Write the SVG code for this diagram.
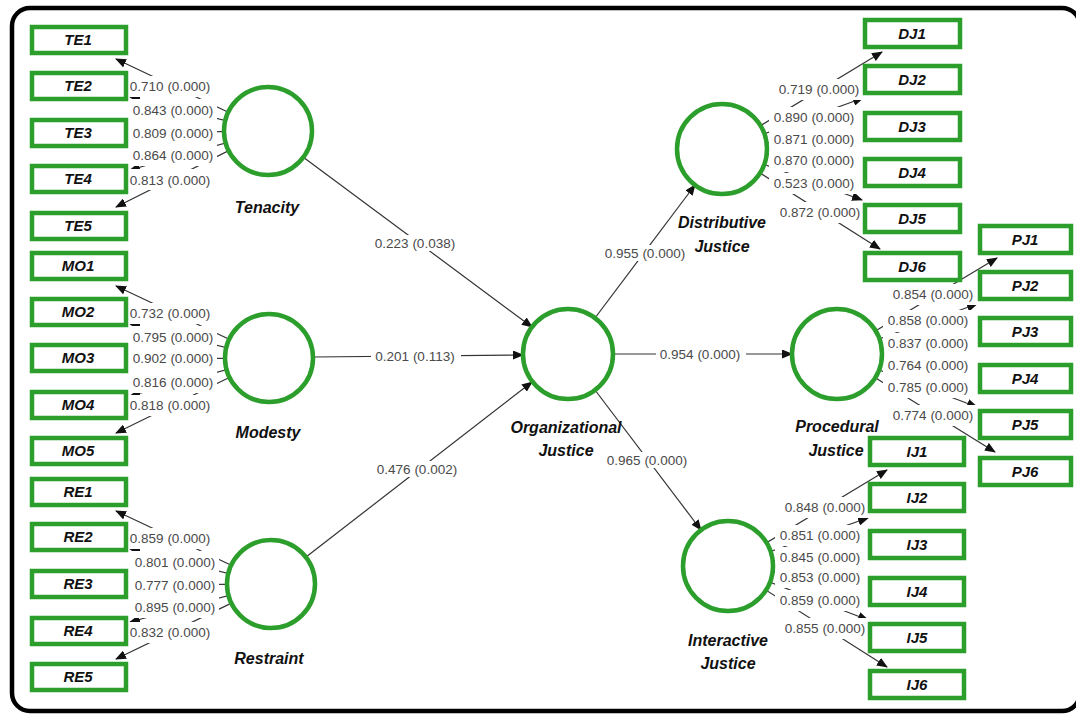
<svg xmlns="http://www.w3.org/2000/svg" width="1076" height="716" viewBox="0 0 1076 716">
<style>
.frame{fill:#fff;stroke:#000;stroke-width:4.5}
.ln{stroke:#333;stroke-width:1.2;fill:none;marker-end:url(#ah)}
.lbg{fill:#fff}
.lt{font-family:"Liberation Sans",Arial,sans-serif;font-size:13.5px;fill:#4a4a4a;text-anchor:middle}
.lv{fill:#fff;stroke:#2b9e2b;stroke-width:4.5}
.ind rect{fill:#fff;stroke:#2b9e2b;stroke-width:4.5}
.it{font-family:"Liberation Sans",Arial,sans-serif;font-size:15px;font-weight:bold;font-style:italic;fill:#111;text-anchor:middle}
.ct{font-family:"Liberation Sans",Arial,sans-serif;font-size:16px;font-weight:bold;font-style:italic;fill:#111;text-anchor:middle}
</style>
<defs>
<marker id="ah" markerUnits="userSpaceOnUse" markerWidth="11" markerHeight="9" refX="10" refY="4.5" orient="auto"><path d="M0,0 L11,4.5 L0,9 z" fill="#111"/></marker>
</defs>
<rect class="frame" x="12" y="8" width="1068" height="703" rx="18"/>
<g id="connectors">
<line class="ln" x1="303" y1="157" x2="532" y2="327"/>
<line class="ln" x1="313" y1="357" x2="523" y2="355"/>
<line class="ln" x1="306" y1="557" x2="532" y2="382"/>
<line class="ln" x1="595" y1="318" x2="695" y2="185"/>
<line class="ln" x1="613" y1="354" x2="792" y2="354"/>
<line class="ln" x1="595" y1="390" x2="701" y2="530"/>
<line class="ln" x1="268" y1="131" x2="116" y2="59"/>
<line class="ln" x1="268" y1="131" x2="130" y2="97"/>
<line class="ln" x1="268" y1="131" x2="129" y2="133"/>
<line class="ln" x1="268" y1="131" x2="130" y2="170"/>
<line class="ln" x1="268" y1="131" x2="116" y2="207"/>
<line class="ln" x1="269" y1="358" x2="116" y2="286"/>
<line class="ln" x1="269" y1="358" x2="130" y2="324"/>
<line class="ln" x1="269" y1="358" x2="129" y2="359"/>
<line class="ln" x1="269" y1="358" x2="130" y2="396"/>
<line class="ln" x1="269" y1="358" x2="116" y2="433"/>
<line class="ln" x1="271" y1="584" x2="116" y2="511"/>
<line class="ln" x1="271" y1="584" x2="130" y2="549"/>
<line class="ln" x1="271" y1="584" x2="129" y2="585"/>
<line class="ln" x1="271" y1="584" x2="130" y2="622"/>
<line class="ln" x1="271" y1="584" x2="116" y2="659"/>
<line class="ln" x1="722" y1="149" x2="882" y2="52"/>
<line class="ln" x1="722" y1="149" x2="863" y2="98"/>
<line class="ln" x1="722" y1="149" x2="862" y2="130"/>
<line class="ln" x1="722" y1="149" x2="862" y2="165"/>
<line class="ln" x1="722" y1="149" x2="862" y2="200"/>
<line class="ln" x1="722" y1="149" x2="880" y2="249"/>
<line class="ln" x1="837" y1="354" x2="997" y2="258"/>
<line class="ln" x1="837" y1="354" x2="977" y2="304"/>
<line class="ln" x1="837" y1="354" x2="977" y2="337"/>
<line class="ln" x1="837" y1="354" x2="977" y2="372"/>
<line class="ln" x1="837" y1="354" x2="977" y2="407"/>
<line class="ln" x1="837" y1="354" x2="995" y2="452"/>
<line class="ln" x1="728" y1="566" x2="887" y2="470"/>
<line class="ln" x1="728" y1="566" x2="868" y2="518"/>
<line class="ln" x1="728" y1="566" x2="868" y2="550"/>
<line class="ln" x1="728" y1="566" x2="868" y2="585"/>
<line class="ln" x1="728" y1="566" x2="868" y2="620"/>
<line class="ln" x1="728" y1="566" x2="887" y2="667"/>

<g class="lbg">
<rect x="371" y="235" width="90" height="16"/>
<rect x="371" y="348" width="90" height="16"/>
<rect x="373" y="461" width="90" height="16"/>
<rect x="601" y="245" width="90" height="16"/>
<rect x="656" y="346" width="90" height="16"/>
<rect x="603" y="452" width="90" height="16"/>

<rect x="127" y="76" width="90" height="21"/>
<rect x="127" y="99" width="90" height="22"/>
<rect x="127" y="122" width="90" height="22"/>
<rect x="127" y="144" width="90" height="22"/>
<rect x="127" y="169" width="90" height="21"/>

<rect x="127" y="303" width="90" height="21"/>
<rect x="127" y="326" width="90" height="22"/>
<rect x="127" y="347" width="90" height="22"/>
<rect x="127" y="371" width="90" height="22"/>
<rect x="127" y="395" width="90" height="21"/>

<rect x="127" y="528" width="92" height="21"/>
<rect x="127" y="551" width="92" height="22"/>
<rect x="127" y="574" width="92" height="22"/>
<rect x="127" y="596" width="92" height="22"/>
<rect x="127" y="622" width="92" height="21"/>

<rect x="774" y="79" width="90" height="21"/>
<rect x="769" y="107" width="95" height="22"/>
<rect x="769" y="129" width="95" height="21"/>
<rect x="769" y="150" width="95" height="22"/>
<rect x="769" y="173" width="95" height="21"/>
<rect x="775" y="202" width="89" height="21"/>

<rect x="888" y="284" width="90" height="21"/>
<rect x="883" y="310" width="95" height="22"/>
<rect x="883" y="333" width="95" height="21"/>
<rect x="883" y="355" width="95" height="22"/>
<rect x="883" y="377" width="95" height="21"/>
<rect x="888" y="405" width="90" height="21"/>

<rect x="780" y="497" width="89" height="21"/>
<rect x="775" y="525" width="94" height="21"/>
<rect x="775" y="547" width="94" height="21"/>
<rect x="775" y="567" width="94" height="21"/>
<rect x="775" y="590" width="94" height="21"/>
<rect x="780" y="618" width="89" height="21"/>
</g>

<text class="lt" x="415" y="248">0.223 (0.038)</text>
<text class="lt" x="415" y="361">0.201 (0.113)</text>
<text class="lt" x="417" y="474">0.476 (0.002)</text>
<text class="lt" x="645" y="258">0.955 (0.000)</text>
<text class="lt" x="700" y="359">0.954 (0.000)</text>
<text class="lt" x="647" y="465">0.965 (0.000)</text>

<text class="lt" x="170" y="91">0.710 (0.000)</text>
<text class="lt" x="173" y="115">0.843 (0.000)</text>
<text class="lt" x="173" y="138">0.809 (0.000)</text>
<text class="lt" x="173" y="160">0.864 (0.000)</text>
<text class="lt" x="170" y="185">0.813 (0.000)</text>

<text class="lt" x="170" y="318">0.732 (0.000)</text>
<text class="lt" x="173" y="342">0.795 (0.000)</text>
<text class="lt" x="173" y="363">0.902 (0.000)</text>
<text class="lt" x="173" y="387">0.816 (0.000)</text>
<text class="lt" x="170" y="410">0.818 (0.000)</text>

<text class="lt" x="170" y="543">0.859 (0.000)</text>
<text class="lt" x="175" y="567">0.801 (0.000)</text>
<text class="lt" x="175" y="590">0.777 (0.000)</text>
<text class="lt" x="175" y="612">0.895 (0.000)</text>
<text class="lt" x="170" y="637">0.832 (0.000)</text>

<text class="lt" x="819" y="94">0.719 (0.000)</text>
<text class="lt" x="814" y="122">0.890 (0.000)</text>
<text class="lt" x="814" y="144">0.871 (0.000)</text>
<text class="lt" x="814" y="165">0.870 (0.000)</text>
<text class="lt" x="814" y="188">0.523 (0.000)</text>
<text class="lt" x="820" y="217">0.872 (0.000)</text>

<text class="lt" x="933" y="299">0.854 (0.000)</text>
<text class="lt" x="928" y="325">0.858 (0.000)</text>
<text class="lt" x="928" y="348">0.837 (0.000)</text>
<text class="lt" x="928" y="370">0.764 (0.000)</text>
<text class="lt" x="928" y="392">0.785 (0.000)</text>
<text class="lt" x="933" y="420">0.774 (0.000)</text>

<text class="lt" x="825" y="512">0.848 (0.000)</text>
<text class="lt" x="820" y="540">0.851 (0.000)</text>
<text class="lt" x="820" y="562">0.845 (0.000)</text>
<text class="lt" x="820" y="582">0.853 (0.000)</text>
<text class="lt" x="820" y="605">0.859 (0.000)</text>
<text class="lt" x="825" y="633">0.855 (0.000)</text>
</g>

<g id="tenacity"><circle class="lv" cx="268" cy="131" r="44"/><text class="ct" x="267" y="213">Tenacity</text></g>
<g id="modesty"><circle class="lv" cx="269" cy="358" r="44"/><text class="ct" x="268" y="438">Modesty</text></g>
<g id="restraint"><circle class="lv" cx="271" cy="584" r="44"/><text class="ct" x="269" y="664">Restraint</text></g>
<g id="organizational-justice"><circle class="lv" cx="568" cy="354" r="45"/><text class="ct" x="566" y="433">Organizational</text><text class="ct" x="566" y="456">Justice</text></g>
<g id="distributive-justice"><circle class="lv" cx="722" cy="149" r="45"/><text class="ct" x="722" y="228">Distributive</text><text class="ct" x="722" y="252">Justice</text></g>
<g id="procedural-justice"><circle class="lv" cx="837" cy="354" r="45"/><text class="ct" x="837" y="432">Procedural</text><text class="ct" x="836" y="456">Justice</text></g>
<g id="interactive-justice"><circle class="lv" cx="728" cy="566" r="45"/><text class="ct" x="728" y="646">Interactive</text><text class="ct" x="728" y="669">Justice</text></g>

<g id="TE1" class="ind"><rect x="32" y="27" width="94" height="26"/><text class="it" x="78" y="45">TE1</text></g>
<g id="TE2" class="ind"><rect x="32" y="73" width="94" height="26"/><text class="it" x="78" y="91">TE2</text></g>
<g id="TE3" class="ind"><rect x="32" y="120" width="94" height="26"/><text class="it" x="78" y="138">TE3</text></g>
<g id="TE4" class="ind"><rect x="32" y="166" width="94" height="26"/><text class="it" x="78" y="184">TE4</text></g>
<g id="TE5" class="ind"><rect x="32" y="213" width="94" height="26"/><text class="it" x="78" y="231">TE5</text></g>
<g id="MO1" class="ind"><rect x="32" y="253" width="94" height="26"/><text class="it" x="78" y="271">MO1</text></g>
<g id="MO2" class="ind"><rect x="32" y="299" width="94" height="26"/><text class="it" x="78" y="317">MO2</text></g>
<g id="MO3" class="ind"><rect x="32" y="345" width="94" height="26"/><text class="it" x="78" y="363">MO3</text></g>
<g id="MO4" class="ind"><rect x="32" y="392" width="94" height="26"/><text class="it" x="78" y="410">MO4</text></g>
<g id="MO5" class="ind"><rect x="32" y="438" width="94" height="26"/><text class="it" x="78" y="456">MO5</text></g>
<g id="RE1" class="ind"><rect x="32" y="479" width="94" height="26"/><text class="it" x="78" y="497">RE1</text></g>
<g id="RE2" class="ind"><rect x="32" y="524" width="94" height="26"/><text class="it" x="78" y="542">RE2</text></g>
<g id="RE3" class="ind"><rect x="32" y="571" width="94" height="26"/><text class="it" x="78" y="589">RE3</text></g>
<g id="RE4" class="ind"><rect x="32" y="618" width="94" height="26"/><text class="it" x="78" y="636">RE4</text></g>
<g id="RE5" class="ind"><rect x="32" y="664" width="94" height="26"/><text class="it" x="78" y="682">RE5</text></g>

<g id="DJ1" class="ind"><rect x="865" y="20" width="95" height="27"/><text class="it" x="912" y="39">DJ1</text></g>
<g id="DJ2" class="ind"><rect x="865" y="66" width="95" height="27"/><text class="it" x="912" y="85">DJ2</text></g>
<g id="DJ3" class="ind"><rect x="865" y="113" width="95" height="27"/><text class="it" x="912" y="132">DJ3</text></g>
<g id="DJ4" class="ind"><rect x="865" y="159" width="95" height="27"/><text class="it" x="912" y="178">DJ4</text></g>
<g id="DJ5" class="ind"><rect x="865" y="205" width="95" height="27"/><text class="it" x="912" y="224">DJ5</text></g>
<g id="DJ6" class="ind"><rect x="865" y="253" width="95" height="27"/><text class="it" x="912" y="272">DJ6</text></g>
<g id="PJ1" class="ind"><rect x="980" y="226" width="91" height="27"/><text class="it" x="1025" y="245">PJ1</text></g>
<g id="PJ2" class="ind"><rect x="980" y="272" width="91" height="27"/><text class="it" x="1025" y="291">PJ2</text></g>
<g id="PJ3" class="ind"><rect x="980" y="318" width="91" height="27"/><text class="it" x="1025" y="337">PJ3</text></g>
<g id="PJ4" class="ind"><rect x="980" y="365" width="91" height="27"/><text class="it" x="1025" y="384">PJ4</text></g>
<g id="PJ5" class="ind"><rect x="980" y="411" width="91" height="27"/><text class="it" x="1025" y="430">PJ5</text></g>
<g id="PJ6" class="ind"><rect x="980" y="458" width="91" height="27"/><text class="it" x="1025" y="477">PJ6</text></g>
<g id="IJ1" class="ind"><rect x="870" y="438" width="94" height="27"/><text class="it" x="917" y="457">IJ1</text></g>
<g id="IJ2" class="ind"><rect x="870" y="484" width="94" height="27"/><text class="it" x="917" y="503">IJ2</text></g>
<g id="IJ3" class="ind"><rect x="870" y="531" width="94" height="27"/><text class="it" x="917" y="550">IJ3</text></g>
<g id="IJ4" class="ind"><rect x="870" y="578" width="94" height="27"/><text class="it" x="917" y="597">IJ4</text></g>
<g id="IJ5" class="ind"><rect x="870" y="624" width="94" height="27"/><text class="it" x="917" y="643">IJ5</text></g>
<g id="IJ6" class="ind"><rect x="870" y="671" width="94" height="27"/><text class="it" x="917" y="690">IJ6</text></g>
</svg>
